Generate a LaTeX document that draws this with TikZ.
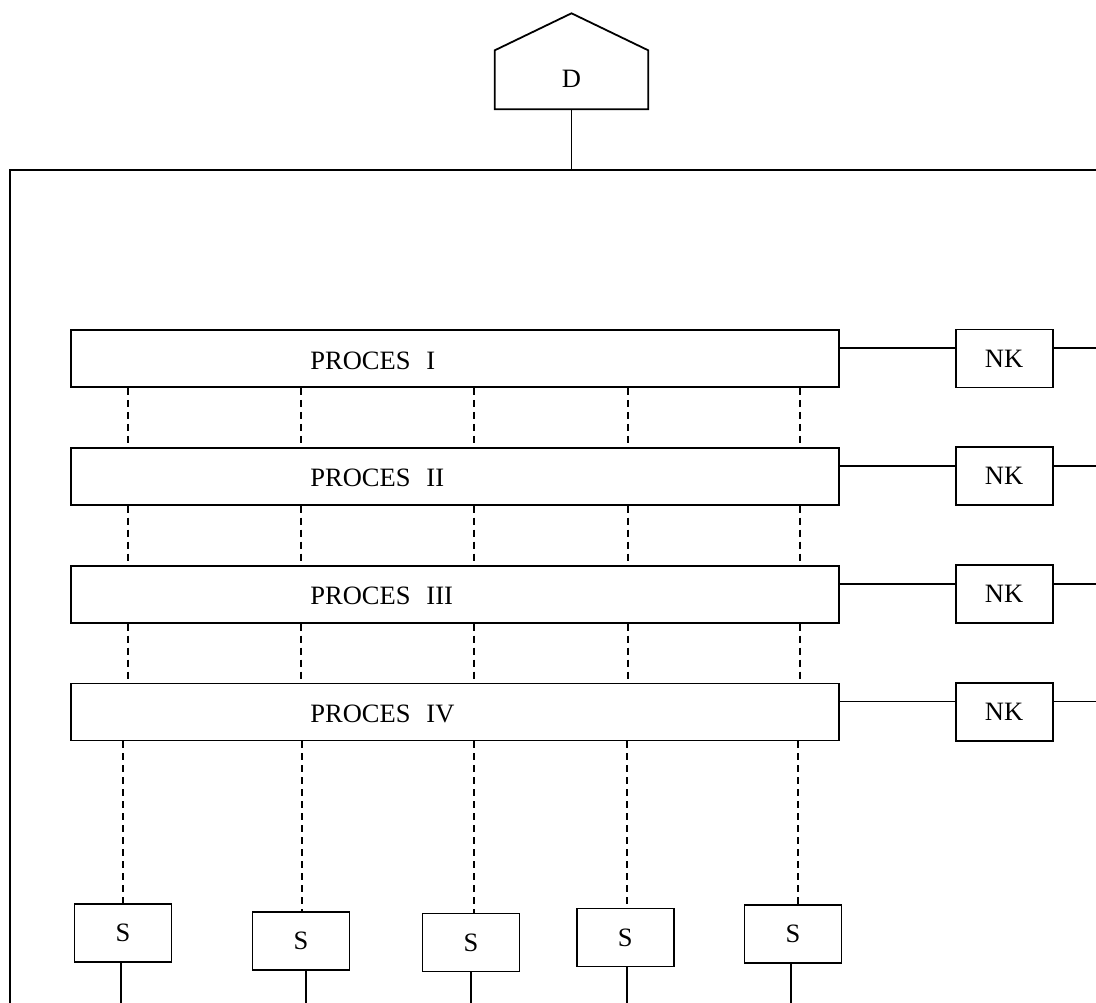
\documentclass[tikz,border=0pt]{standalone}
\usepackage{fontspec}
\setmainfont{Liberation Serif}
\usetikzlibrary{positioning}
\begin{document}
\begin{tikzpicture}[
    x=1pt, y=-1pt,
    node distance=59pt,
    font=\fontsize{26.5}{32}\selectfont,
    box/.style={draw, line width=1.8pt, inner sep=0pt},
    proc/.style={box, minimum width=768pt, minimum height=57pt},
    nk/.style={box, minimum width=97pt, minimum height=58pt},
    sbox/.style={box, minimum width=97pt, minimum height=58pt},
    link/.style={line width=1.8pt},
    dlink/.style={line width=1.8pt, dash pattern=on 7pt off 5pt}
  ]
  \useasboundingbox (0,0) rectangle (1096,1003);
  % outer frame
  \coordinate (ftl) at (10,170);
  \coordinate (fre) at (1096,170);
  \coordinate (fbe) at (10,1003);
  \draw[link] (fbe) -- (ftl) -- (fre);
  % D on top
  \node[minimum width=153pt, minimum height=57pt, inner sep=0pt] (d) at (571.5,79) {D};
  \draw[link, line join=miter] ([yshift=-1.5pt]d.south west) -- (d.north west) -- ([yshift=37pt]d.north) -- (d.north east) -- ([yshift=-1.5pt]d.south east) -- cycle;
  \draw[link] ([yshift=-1.5pt]d.south) -- (d.south |- ftl);
  % processes
  \node[proc] (p1) at (454.8,358.5) {};
  \node[proc, below=of p1] (p2) {};
  \node[proc, below=of p2] (p3) {};
  \node[proc, below=of p3] (p4) {};
  \foreach \i/\t in {1/I,2/II,3/III,4/IV}
    \node[anchor=west] (l\i) at ([xshift=237pt,yshift=-2pt]p\i.west) {PROCES\hspace{0.6em}\t};
  % NK boxes
  \foreach \i in {1,...,4} {
    \node[nk, right=115pt of p\i] (nk\i) {NK};
    \draw[link] ([yshift=-19pt]p\i.north east) coordinate (a\i) -- (a\i -| nk\i.west);
    \draw[link] (nk\i.east |- a\i) -- (a\i -| fre);
  }
  % dashed links between processes
  \foreach \x in {128,301,474,628,800}
    \foreach \i/\j in {1/2,2/3,3/4}
      \draw[dlink] (p\i.south -| \x,0) -- (p\j.north -| \x,0);
  % S boxes
  \foreach \n/\x/\y in {1/123/933,2/301/941,3/471/942.5,4/625.3/937.5,5/793/933.6}
    \node[sbox] (s\n) at (\x,\y) {S};
  \foreach \n/\x in {1/123,2/302,3/474,4/626.7,5/798.3}
    \draw[dlink] (p4.south -| \x,0) -- (s\n.north -| \x,0);
  \foreach \n/\x in {1/121,2/305.7,3/470.7,4/626.7,5/790.7}
    \draw[link] (s\n.south -| \x,0) -- (\x,1003);
\end{tikzpicture}
\end{document}
